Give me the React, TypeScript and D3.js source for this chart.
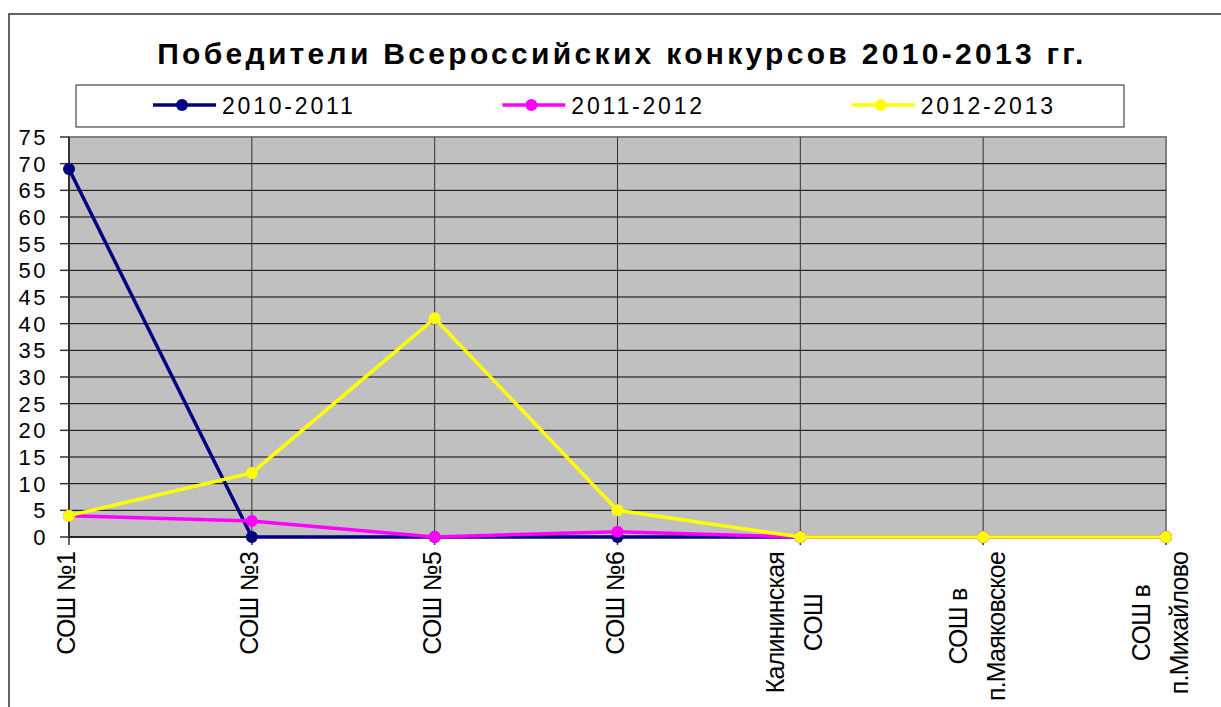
import { useRef, useEffect } from 'react'
import * as d3 from 'd3'

const W = 1221
const H = 707

const title = 'Победители Всероссийских конкурсов 2010-2013 гг.'
const categories = [
  ['СОШ №1'],
  ['СОШ №3'],
  ['СОШ №5'],
  ['СОШ №6'],
  ['Калининская', 'СОШ'],
  ['СОШ в', 'п.Маяковское'],
  ['СОШ в', 'п.Михайлово'],
]
const seriesNames = ['2010-2011', '2011-2012', '2012-2013']
const seriesColors = ['#000080', '#FF00FF', '#FFFF00']
const values2010 = [69, 0, 0, 0, 0, 0, 0]
const values2011 = [4, 3, 0, 1, 0, 0, 0]
const values2012 = [4, 12, 41, 5, 0, 0, 0]
const yTicks = [0, 5, 10, 15, 20, 25, 30, 35, 40, 45, 50, 55, 60, 65, 70, 75]

const FONT = 'Arial, "Liberation Sans", sans-serif'

export default function App() {
  const svgRef = useRef<SVGSVGElement>(null)

  useEffect(() => {
    if (!svgRef.current) return
    const svg = d3.select(svgRef.current)
    svg.selectAll('*').remove()

    const left = 69
    const right = 1166
    const top = 137
    const bottom = 537

    const x = d3
      .scalePoint<number>()
      .domain(categories.map((_, i) => i))
      .range([left, right])
    const y = d3.scaleLinear().domain([0, 75]).range([bottom, top])

    // outer frame
    svg
      .append('rect')
      .attr('x', 9)
      .attr('y', 14)
      .attr('width', W)
      .attr('height', H)
      .attr('fill', 'none')
      .attr('stroke', '#333')
      .attr('stroke-width', 1.5)

    // title
    svg
      .append('text')
      .attr('x', 622)
      .attr('y', 64)
      .attr('text-anchor', 'middle')
      .attr('font-family', FONT)
      .attr('font-size', 30)
      .attr('font-weight', 'bold')
      .attr('letter-spacing', 3.3)
      .text(title)

    // legend
    svg
      .append('rect')
      .attr('x', 76)
      .attr('y', 85)
      .attr('width', 1124 - 76)
      .attr('height', 42)
      .attr('fill', '#fff')
      .attr('stroke', '#222')
      .attr('stroke-width', 1)

    const legendX = d3.scaleBand().domain(seriesNames).range([76, 1124])
    const lg = svg
      .selectAll('g.legend')
      .data(seriesNames)
      .join('g')
      .attr('transform', (d) => `translate(${legendX(d)},105)`)
    lg.append('line')
      .attr('x1', 77)
      .attr('x2', 140)
      .attr('stroke', (_, i) => seriesColors[i])
      .attr('stroke-width', 3.5)
    lg.append('circle')
      .attr('cx', 106)
      .attr('r', 6)
      .attr('fill', (_, i) => seriesColors[i])
    lg.append('text')
      .attr('x', 146)
      .attr('y', 8.5)
      .attr('font-family', FONT)
      .attr('font-size', 23)
      .attr('letter-spacing', 2.8)
      .text((d) => d)

    // plot area
    svg
      .append('rect')
      .attr('x', left)
      .attr('y', top)
      .attr('width', right - left)
      .attr('height', bottom - top)
      .attr('fill', '#C0C0C0')
      .attr('stroke', '#808080')
      .attr('stroke-width', 2)

    svg
      .append('g')
      .selectAll('line')
      .data(yTicks.filter((t) => t > 0 && t < 75))
      .join('line')
      .attr('x1', left)
      .attr('x2', right)
      .attr('y1', (d) => y(d))
      .attr('y2', (d) => y(d))
      .attr('stroke', '#000')
      .attr('stroke-width', 1)

    svg
      .append('g')
      .selectAll('line')
      .data(categories.map((_, i) => i).slice(1, -1))
      .join('line')
      .attr('x1', (d) => x(d)!)
      .attr('x2', (d) => x(d)!)
      .attr('y1', top)
      .attr('y2', bottom)
      .attr('stroke', '#333')
      .attr('stroke-width', 1)

    // y axis
    const yAxis = svg.append('g')
    yAxis
      .append('line')
      .attr('x1', left)
      .attr('x2', left)
      .attr('y1', top)
      .attr('y2', bottom)
      .attr('stroke', '#333')
      .attr('stroke-width', 2)
    const yt = yAxis
      .selectAll('g')
      .data(yTicks)
      .join('g')
      .attr('transform', (d) => `translate(0,${y(d)})`)
    yt.append('line')
      .attr('x1', 60)
      .attr('x2', left)
      .attr('stroke', '#333')
      .attr('stroke-width', 1.5)
    yt.append('text')
      .attr('x', 48)
      .attr('y', 8)
      .attr('text-anchor', 'end')
      .attr('font-family', FONT)
      .attr('font-size', 22)
      .attr('letter-spacing', 2.5)
      .text((d) => d)

    // x axis
    const xAxis = svg.append('g')
    xAxis
      .append('line')
      .attr('x1', left)
      .attr('x2', right)
      .attr('y1', bottom)
      .attr('y2', bottom)
      .attr('stroke', '#222')
      .attr('stroke-width', 2)
    xAxis
      .selectAll('line.tick')
      .data(categories.map((_, i) => i))
      .join('line')
      .attr('class', 'tick')
      .attr('x1', (d) => x(d)!)
      .attr('x2', (d) => x(d)!)
      .attr('y1', bottom)
      .attr('y2', bottom + 8)
      .attr('stroke', '#333')
      .attr('stroke-width', 1.5)

    const labelTop = 552
    categories.forEach((lines, i) => {
      const cx = x(i)!
      const g = xAxis.append('g')
      const texts = lines.map((ln, j) => {
        const off = lines.length === 1 ? 6 : j === 0 ? -16 : 22
        return g
          .append('text')
          .attr('font-family', FONT)
          .attr('font-size', 25)
          .attr('letter-spacing', -0.8)
          .attr('text-anchor', 'middle')
          .attr('data-off', off)
          .text(ln)
      })
      const maxLen = d3.max(texts, (t) => (t.node() as SVGTextElement).getComputedTextLength()) ?? 0
      const cy = labelTop + maxLen / 2
      texts.forEach((t) => {
        const off = +t.attr('data-off')
        t.attr('transform', `translate(${cx + off},${cy}) rotate(-90)`)
      })
    })

    // series
    const seriesData = [values2010, values2011, values2012]
    const line = d3
      .line<number>()
      .x((_, i) => x(i)!)
      .y((d) => y(d))
    seriesData.forEach((vals, s) => {
      const g = svg.append('g')
      g.append('path')
        .attr('d', line(vals))
        .attr('fill', 'none')
        .attr('stroke', seriesColors[s])
        .attr('stroke-width', 3.5)
      g.selectAll('circle')
        .data(vals)
        .join('circle')
        .attr('cx', (_, i) => x(i)!)
        .attr('cy', (d) => y(d))
        .attr('r', 6)
        .attr('fill', seriesColors[s])
    })
  }, [])

  return (
    <svg
      ref={svgRef}
      width={W}
      height={H}
      style={{ position: 'absolute', left: 0, top: 0, background: '#fff' }}
    />
  )
}
